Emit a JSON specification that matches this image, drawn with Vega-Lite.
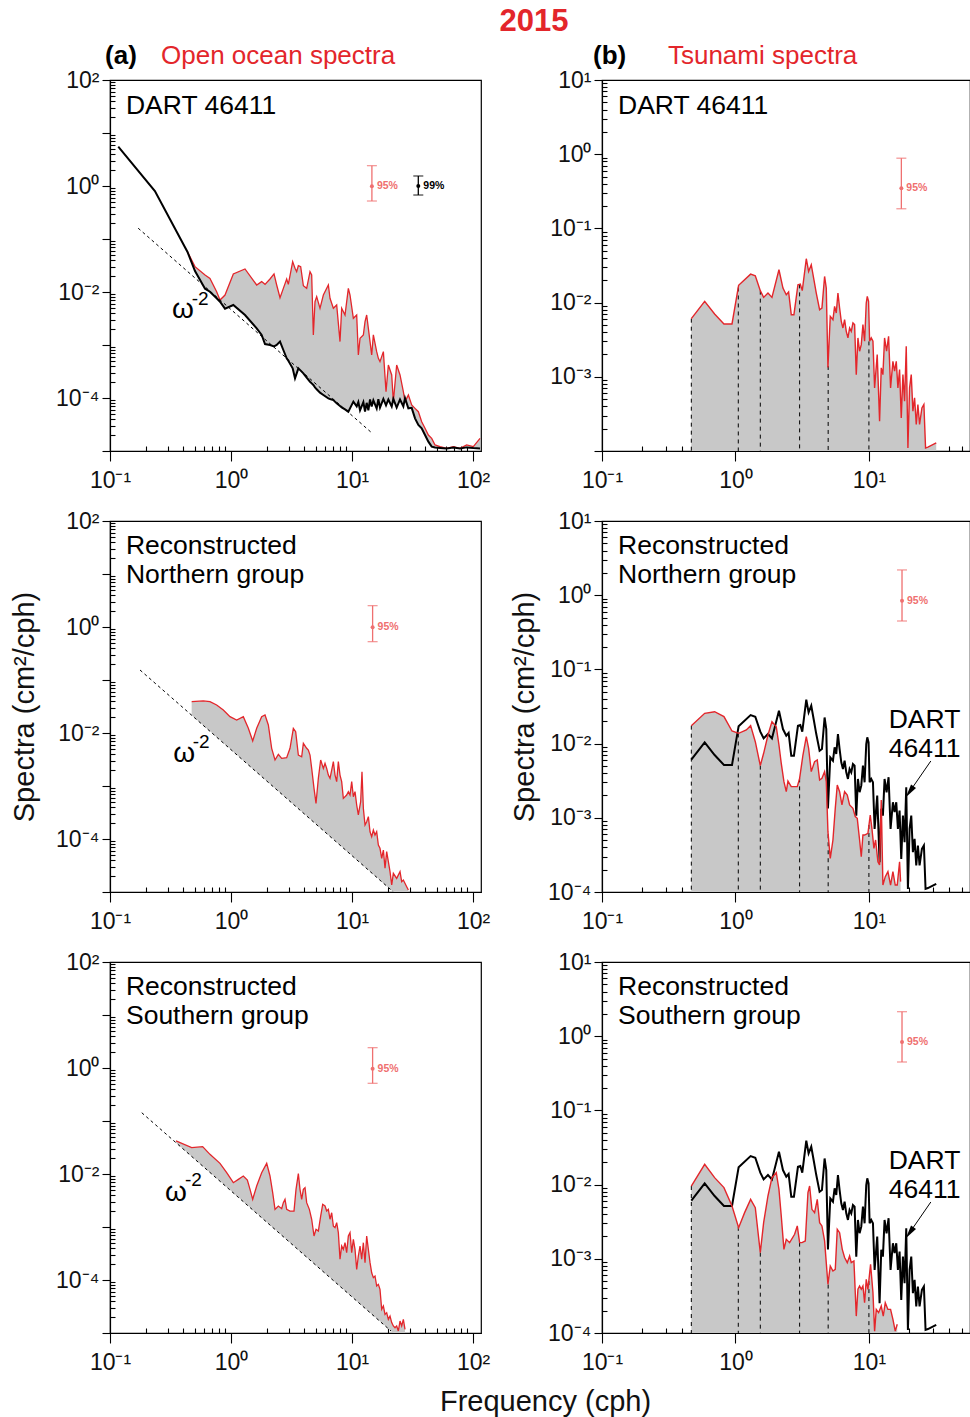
{
"$schema": "https://vega.github.io/schema/vega-lite/v6.json",
"padding": {"left": 9, "top": 6, "right": 0, "bottom": 0},
"background": "white",
"bounds": "flush",
"columns": 2,
"spacing": {"row": 70, "column": 121},
"title": {"text": "2015", "font": "Liberation Sans", "fontSize": 31, "fontWeight": "bold", "color": "#e3262b", "anchor": "middle", "offset": 4, "dx": 44},
"config": {
  "view": {"stroke": "#000", "strokeWidth": 1.2},
  "axis": {"domainColor": "#000", "domainWidth": 1.2, "tickColor": "#000", "tickWidth": 1.1, "labelFont": "Liberation Sans", "labelFontSize": 23, "labelColor": "#111", "titleFont": "Liberation Sans", "titleFontSize": 29, "titleFontWeight": "normal", "titleColor": "#111", "grid": false, "labelOverlap": false, "labelFlush": false, "labelBound": false},
  "axisX": {"labelPadding": 8},
  "text": {"font": "Liberation Sans"}
},
"datasets": {
"a1": [
{"f":0.117,"black":5.52},{"f":0.235,"black":0.805},
{"f":0.436,"red":0.0577,"black":0.0577},{"f":0.504,"red":0.0301,"black":0.0249},{"f":0.61,"red":0.0209,"black":0.01155},{"f":0.67,"red":0.0181,"black":0.01014},{"f":0.761,"red":0.01014,"black":0.0076},{"f":0.811,"red":0.00706,"black":0.00657},{"f":0.892,"red":0.00877,"black":0.00485},{"f":1.045,"red":0.0219,"black":0.00569},{"f":1.305,"red":0.0272,"black":0.00368},{"f":1.63,"red":0.01355,"black":0.00206},{"f":1.792,"red":0.0157,"black":0.00155},{"f":1.91,"red":0.01395,"black":0.00104},{"f":2.1,"red":0.0176,"black":0.001},{"f":2.267,"red":0.0219,"black":0.000944},{"f":2.385,"red":0.01355,"black":0.001},{"f":2.541,"red":0.00781,"black":0.00116},{"f":2.707,"red":0.01172,"black":0.000805},{"f":2.884,"red":0.0176,"black":0.00056},{"f":2.977,"red":0.01395,"black":0.000506},{"f":3.233,"red":0.0374,"black":0.000363},{"f":3.38,"red":0.028,"black":0.000235},{"f":3.489,"red":0.0242,"black":0.000292},{"f":3.602,"red":0.0314,"black":0.000363},{"f":3.765,"red":0.0301,"black":0.000328},{"f":3.962,"red":0.01316,"black":0.000292},{"f":4.22,"red":0.01172,"black":0.000242},{"f":4.497,"red":0.0242,"black":0.000203},{"f":4.642,"red":0.0209,"black":0.000189},{"f":4.791,"red":0.00155,"black":0.000176},{"f":4.945,"red":0.00657,"black":0.000159},{"f":5.105,"red":0.00816,"black":0.000146},{"f":5.439,"red":0.00492,"black":0.000126},{"f":5.796,"red":0.00877,"black":0.000114},{"f":6.375,"red":0.01355,"black":0.0000986},{"f":6.58,"red":0.0076,"black":0.0000957},{"f":7.012,"red":0.00492,"black":0.0000916},{"f":7.47,"red":0.00569,"black":0.0000793},{"f":7.958,"red":0.00116,"black":0.0000706},{"f":8.214,"red":0.00492,"black":0.0000667},{"f":8.752,"red":0.00368,"black":0.0000611},{"f":9.327,"red":0.01172,"black":0.0000552},{"f":9.627,"red":0.00877,"black":0.0000638},{"f":10.26,"red":0.00319,"black":0.0000853},{"f":10.93,"red":0.00368,"black":0.0000693},{"f":11.28,"red":0.000648,"black":0.0000838},{"f":11.65,"red":0.00134,"black":0.0000586},{"f":12.41,"red":0.00155,"black":0.0000838},{"f":12.81,"red":0.00275,"black":0.0000552},{"f":13.22,"red":0.00368,"black":0.0000811},{"f":13.65,"red":0.00206,"black":0.0000586},{"f":14.09,"red":0.00116,"black":0.0000938},{"f":14.54,"red":0.000648,"black":0.0000693},{"f":15.01,"red":0.00155,"black":0.0000906},{"f":15.99,"red":0.000749,"black":0.0000638},{"f":16.51,"red":0.00056,"black":0.0000953},{"f":17.03,"red":0.000485,"black":0.0000659},{"f":18.16,"red":0.000749,"black":0.0000959},{"f":19.1,"red":0.000132,"black":0.0000728},{"f":19.97,"red":0.00042,"black":0.0000938},{"f":21.28,"red":0.000272,"black":0.0000693},{"f":21.96,"red":0.0000853,"black":0.0000959},{"f":23.39,"red":0.00042,"black":0.0000659},{"f":24.93,"red":0.000272,"black":0.0000938},{"f":26.56,"red":0.000132,"black":0.0000693},{"f":27.42,"red":0.0000853,"black":0.0000996},{"f":29.22,"red":0.000114,"black":0.0000638},{"f":31.13,"red":0.0000738,"black":0.0000652},{"f":33.17,"red":0.0000638,"black":0.0000413},{"f":35.34,"red":0.0000552,"black":0.000031},{"f":37.65,"red":0.0000357,"black":0.0000268},{"f":40.12,"red":0.0000268,"black":0.00002},{"f":42.75,"red":0.00002,"black":0.000015},{"f":45.55,"red":0.0000173,"black":0.0000121},{"f":48.53,"red":0.000013,"black":0.0000116},{"f":53.39,"red":0.0000121,"black":0.0000114},{"f":60.6,"red":0.0000112,"black":0.0000112},{"f":68.8,"red":0.0000121,"black":0.0000116},{"f":78.1,"red":0.0000112,"black":0.0000112},{"f":88.6,"red":0.000013,"black":0.0000117},{"f":100.6,"red":0.0000121,"black":0.0000114},{"f":114.3,"red":0.0000173,"black":0.0000112}
],
"a2": [
{"f":0.473,"red":0.039,"ref":0.02164},{"f":0.59,"red":0.0402,"ref":0.0139},{"f":0.67,"red":0.039,"ref":0.01078},{"f":0.761,"red":0.0337,"ref":0.00836},{"f":0.864,"red":0.0272,"ref":0.00648},{"f":0.981,"red":0.0203,"ref":0.00503},{"f":1.114,"red":0.0176,"ref":0.0039},{"f":1.264,"red":0.0203,"ref":0.00303},{"f":1.391,"red":0.01225,"ref":0.0025},{"f":1.511,"red":0.00706,"ref":0.00212},{"f":1.63,"red":0.01225,"ref":0.00182},{"f":1.792,"red":0.0203,"ref":0.00151},{"f":1.91,"red":0.0219,"ref":0.00133},{"f":2.035,"red":0.01416,"ref":0.00117},{"f":2.168,"red":0.00514,"ref":0.00103},{"f":2.31,"red":0.0031,"ref":0.000907},{"f":2.462,"red":0.00396,"ref":0.000798},{"f":2.623,"red":0.00333,"ref":0.000703},{"f":2.884,"red":0.00342,"ref":0.000582},{"f":3.073,"red":0.00514,"ref":0.000513},{"f":3.274,"red":0.01225,"ref":0.000452},{"f":3.423,"red":0.0106,"ref":0.000413},{"f":3.602,"red":0.00384,"ref":0.000373},{"f":3.837,"red":0.00357,"ref":0.000329},{"f":3.962,"red":0.00638,"ref":0.000308},{"f":4.22,"red":0.00514,"ref":0.000272},{"f":4.356,"red":0.00478,"ref":0.000255},{"f":4.497,"red":0.00384,"ref":0.000239},{"f":4.642,"red":0.00215,"ref":0.000225},{"f":4.853,"red":0.000904,"ref":0.000206},{"f":5.041,"red":0.000471,"ref":0.00019},{"f":5.27,"red":0.0014,"ref":0.000174},{"f":5.508,"red":0.0031,"ref":0.00016},{"f":5.796,"red":0.00215,"ref":0.000144},{"f":5.983,"red":0.00268,"ref":0.000135},{"f":6.176,"red":0.00215,"ref":0.000127},{"f":6.375,"red":0.00161,"ref":0.000119},{"f":6.58,"red":0.0014,"ref":0.000112},{"f":6.792,"red":0.002,"ref":0.000105},{"f":7.012,"red":0.00288,"ref":0.0000984},{"f":7.238,"red":0.00161,"ref":0.0000924},{"f":7.47,"red":0.00121,"ref":0.0000867},{"f":7.709,"red":0.00288,"ref":0.0000814},{"f":7.958,"red":0.00161,"ref":0.0000764},{"f":8.214,"red":0.00121,"ref":0.0000717},{"f":8.479,"red":0.000585,"ref":0.0000673},{"f":9.034,"red":0.000676,"ref":0.0000593},{"f":9.327,"red":0.000782,"ref":0.0000556},{"f":9.627,"red":0.000676,"ref":0.0000522},{"f":9.94,"red":0.00121,"ref":0.000049},{"f":10.26,"red":0.000629,"ref":0.000046},{"f":10.59,"red":0.000782,"ref":0.0000432},{"f":10.93,"red":0.000438,"ref":0.0000405},{"f":11.28,"red":0.000284,"ref":0.000038},{"f":11.79,"red":0.000506,"ref":0.0000348},{"f":12.09,"red":0.00186,"ref":0.0000331},{"f":12.41,"red":0.000379,"ref":0.0000314},{"f":12.81,"red":0.000184,"ref":0.0000295},{"f":13.22,"red":0.000212,"ref":0.0000277},{"f":13.65,"red":0.000264,"ref":0.000026},{"f":14.09,"red":0.000137,"ref":0.0000244},{"f":14.54,"red":0.000111,"ref":0.0000229},{"f":15.01,"red":0.000148,"ref":0.0000215},{"f":15.49,"red":0.000119,"ref":0.0000202},{"f":15.99,"red":0.000137,"ref":0.0000189},{"f":16.51,"red":0.0000771,"ref":0.0000178},{"f":17.03,"red":0.0000667,"ref":0.0000167},{"f":17.59,"red":0.0000432,"ref":0.0000156},{"f":18.16,"red":0.0000619,"ref":0.0000147},{"f":18.74,"red":0.000028,"ref":0.0000138},{"f":19.34,"red":0.0000577,"ref":0.0000129},{"f":19.97,"red":0.0000373,"ref":0.0000121},{"f":20.61,"red":0.0000242,"ref":0.0000114},{"f":21.28,"red":0.0000136,"ref":0.0000107},{"f":21.96,"red":0.0000225,"ref":0.00001},{"f":23.39,"red":0.0000181,"ref":0.00001},{"f":24.93,"red":0.0000242,"ref":0.00001},{"f":25.73,"red":0.0000157,"ref":0.00001},{"f":26.56,"red":0.0000168,"ref":0.00001},{"f":28.3,"red":0.0000126,"ref":0.00001},{"f":29.22,"red":0.0000109,"ref":0.00001}
],
"a3": [
{"f":0.351,"red":0.042,"ref":0.039},{"f":0.473,"red":0.0314,"ref":0.02145},{"f":0.583,"red":0.0328,"ref":0.01412},{"f":0.67,"red":0.0235,"ref":0.01069},{"f":0.811,"red":0.0159,"ref":0.0073},{"f":0.921,"red":0.0106,"ref":0.00566},{"f":1.045,"red":0.00686,"ref":0.0044},{"f":1.15,"red":0.00793,"ref":0.00363},{"f":1.264,"red":0.00917,"ref":0.003},{"f":1.365,"red":0.0077,"ref":0.00258},{"f":1.436,"red":0.00514,"ref":0.00233},{"f":1.511,"red":0.00333,"ref":0.0021},{"f":1.63,"red":0.00594,"ref":0.00181},{"f":1.792,"red":0.0106,"ref":0.00149},{"f":1.972,"red":0.0159,"ref":0.00123},{"f":2.1,"red":0.00917,"ref":0.00109},{"f":2.21,"red":0.00445,"ref":0.000983},{"f":2.31,"red":0.00215,"ref":0.0009},{"f":2.462,"red":0.00249,"ref":0.000792},{"f":2.623,"red":0.00222,"ref":0.000698},{"f":2.707,"red":0.00288,"ref":0.000655},{"f":2.795,"red":0.00333,"ref":0.000614},{"f":2.884,"red":0.00215,"ref":0.000577},{"f":3.073,"red":0.002,"ref":0.000508},{"f":3.316,"red":0.002,"ref":0.000437},{"f":3.445,"red":0.00514,"ref":0.000404},{"f":3.602,"red":0.01014,"ref":0.00037},{"f":3.717,"red":0.00514,"ref":0.000347},{"f":3.837,"red":0.00333,"ref":0.000326},{"f":3.962,"red":0.00514,"ref":0.000306},{"f":4.089,"red":0.00552,"ref":0.000287},{"f":4.22,"red":0.00288,"ref":0.00027},{"f":4.441,"red":0.00215,"ref":0.000243},{"f":4.642,"red":0.0014,"ref":0.000223},{"f":4.853,"red":0.000676,"ref":0.000204},{"f":5.041,"red":0.000904,"ref":0.000189},{"f":5.27,"red":0.000841,"ref":0.000173},{"f":5.508,"red":0.00161,"ref":0.000158},{"f":5.724,"red":0.00268,"ref":0.000146},{"f":5.983,"red":0.00249,"ref":0.000134},{"f":6.176,"red":0.002,"ref":0.000126},{"f":6.375,"red":0.00215,"ref":0.000118},{"f":6.58,"red":0.0014,"ref":0.000111},{"f":6.792,"red":0.00186,"ref":0.000104},{"f":7.012,"red":0.00104,"ref":0.0000976},{"f":7.238,"red":0.000971,"ref":0.0000916},{"f":7.47,"red":0.00121,"ref":0.000086},{"f":7.709,"red":0.000782,"ref":0.0000808},{"f":7.958,"red":0.000246,"ref":0.0000758},{"f":8.214,"red":0.000438,"ref":0.0000711},{"f":8.479,"red":0.000379,"ref":0.0000668},{"f":8.752,"red":0.000506,"ref":0.0000627},{"f":9.034,"red":0.000328,"ref":0.0000588},{"f":9.327,"red":0.000676,"ref":0.0000552},{"f":9.627,"red":0.000782,"ref":0.0000518},{"f":9.94,"red":0.000328,"ref":0.0000486},{"f":10.26,"red":0.000585,"ref":0.0000456},{"f":10.59,"red":0.000379,"ref":0.0000428},{"f":10.93,"red":0.000159,"ref":0.0000402},{"f":11.28,"red":0.000284,"ref":0.0000377},{"f":11.65,"red":0.000438,"ref":0.0000354},{"f":12.02,"red":0.000246,"ref":0.0000332},{"f":12.41,"red":0.000506,"ref":0.0000312},{"f":12.81,"red":0.000212,"ref":0.0000293},{"f":13.22,"red":0.000676,"ref":0.0000275},{"f":13.65,"red":0.000379,"ref":0.0000258},{"f":14.09,"red":0.000212,"ref":0.0000242},{"f":14.54,"red":0.000137,"ref":0.0000227},{"f":15.01,"red":0.000111,"ref":0.0000213},{"f":15.49,"red":0.000119,"ref":0.00002},{"f":15.99,"red":0.0000771,"ref":0.0000188},{"f":16.51,"red":0.0000828,"ref":0.0000176},{"f":17.03,"red":0.0000667,"ref":0.0000166},{"f":17.59,"red":0.000028,"ref":0.0000155},{"f":18.16,"red":0.0000323,"ref":0.0000146},{"f":18.74,"red":0.0000225,"ref":0.0000137},{"f":19.34,"red":0.0000242,"ref":0.0000128},{"f":19.97,"red":0.0000181,"ref":0.000012},{"f":20.61,"red":0.0000209,"ref":0.0000113},{"f":21.28,"red":0.0000157,"ref":0.0000106},{"f":21.96,"red":0.0000136,"ref":0.00001},{"f":22.67,"red":0.0000126,"ref":0.00001},{"f":23.39,"red":0.0000136,"ref":0.00001},{"f":24.15,"red":0.0000109,"ref":0.00001},{"f":24.93,"red":0.0000168,"ref":0.00001},{"f":25.73,"red":0.0000136,"ref":0.00001},{"f":26.56,"red":0.0000181,"ref":0.00001},{"f":27.42,"red":0.0000117,"ref":0.00001}
],
"dart": [
{"f":0.467,"s":0.00607},{"f":0.588,"s":0.0104},{"f":0.698,"s":0.00702},{"f":0.82,"s":0.00515},{"f":0.942,"s":0.00515},{"f":1.056,"s":0.0171},{"f":1.299,"s":0.0242},{"f":1.408,"s":0.023},{"f":1.535,"s":0.0145},{"f":1.626,"s":0.01176},{"f":1.752,"s":0.01345},{"f":1.877,"s":0.01176},{"f":2.118,"s":0.0277},{"f":2.269,"s":0.0157},{"f":2.403,"s":0.01277},{"f":2.502,"s":0.0139},{"f":2.619,"s":0.00687},{"f":2.742,"s":0.00687},{"f":2.939,"s":0.0174},{"f":3.06,"s":0.0178},{"f":3.167,"s":0.0145},{"f":3.394,"s":0.039},{"f":3.533,"s":0.0263},{"f":3.698,"s":0.0324},{"f":3.873,"s":0.0203},{"f":4.032,"s":0.01345},{"f":4.271,"s":0.00802},{"f":4.446,"s":0.00845},{"f":4.655,"s":0.0225},{"f":4.791,"s":0.0157},{"f":4.931,"s":0.00134},{"f":5.134,"s":0.00653},{"f":5.375,"s":0.00589},{"f":5.532,"s":0.0089},{"f":5.693,"s":0.00724},{"f":5.86,"s":0.01345},{"f":6.031,"s":0.00845},{"f":6.207,"s":0.00559},{"f":6.387,"s":0.00455},{"f":6.573,"s":0.00589},{"f":6.766,"s":0.0041},{"f":6.963,"s":0.00334},{"f":7.166,"s":0.00455},{"f":7.375,"s":0.0041},{"f":7.59,"s":0.00531},{"f":7.811,"s":0.00505},{"f":8.039,"s":0.00107},{"f":8.274,"s":0.00334},{"f":8.515,"s":0.00221},{"f":8.764,"s":0.00271},{"f":9.019,"s":0.00505},{"f":9.281,"s":0.00301},{"f":9.55,"s":0.00987},{"f":9.72,"s":0.01213},{"f":9.94,"s":0.0104},{"f":10.12,"s":0.00301},{"f":10.41,"s":0.00334},{"f":10.72,"s":0.00301},{"f":11.03,"s":0.000708},{"f":11.54,"s":0.00199},{"f":12.02,"s":0.000252},{"f":12.37,"s":0.00132},{"f":12.73,"s":0.00107},{"f":13.1,"s":0.00334},{"f":13.56,"s":0.00221},{"f":14.04,"s":0.00352},{"f":14.53,"s":0.000708},{"f":15.13,"s":0.00162},{"f":15.57,"s":0.00119},{"f":16.03,"s":0.00162},{"f":16.49,"s":0.000708},{"f":16.97,"s":0.00125},{"f":17.47,"s":0.000279},{"f":17.98,"s":0.00107},{"f":18.5,"s":0.000469},{"f":19.04,"s":0.00258},{"f":19.6,"s":0.00011},{"f":20.17,"s":0.000708},{"f":20.76,"s":0.00107},{"f":21.36,"s":0.000344},{"f":21.99,"s":0.00052},{"f":22.63,"s":0.000228},{"f":23.28,"s":0.000423},{"f":23.96,"s":0.000228},{"f":24.95,"s":0.000381},{"f":25.82,"s":0.000423},{"f":26.57,"s":0.00011},{"f":27.67,"s":0.000113},{"f":31.94,"s":0.000129}
],
"b2": [
{"f":0.467,"s":0.01746},{"f":0.588,"s":0.0256},{"f":0.698,"s":0.0269},{"f":0.82,"s":0.0231},{"f":0.942,"s":0.01479},{"f":1.056,"s":0.01375},{"f":1.206,"s":0.01525},{"f":1.299,"s":0.01746},{"f":1.408,"s":0.01061},{"f":1.535,"s":0.00505},{"f":1.626,"s":0.0074},{"f":1.752,"s":0.01306},{"f":1.877,"s":0.0198},{"f":2.022,"s":0.0169},{"f":2.118,"s":0.00957},{"f":2.204,"s":0.00542},{"f":2.308,"s":0.00307},{"f":2.403,"s":0.00225},{"f":2.473,"s":0.00313},{"f":2.619,"s":0.00263},{"f":2.905,"s":0.00263},{"f":3.025,"s":0.0034},{"f":3.204,"s":0.00702},{"f":3.394,"s":0.0124},{"f":3.533,"s":0.00863},{"f":3.698,"s":0.00419},{"f":3.917,"s":0.00571},{"f":4.102,"s":0.00601},{"f":4.271,"s":0.00323},{"f":4.446,"s":0.0034},{"f":4.655,"s":0.00419},{"f":4.791,"s":0.00307},{"f":4.931,"s":0.00065},{"f":5.134,"s":0.000284},{"f":5.375,"s":0.000502},{"f":5.596,"s":0.00134},{"f":5.792,"s":0.00277},{"f":6.031,"s":0.00225},{"f":6.279,"s":0.00149},{"f":6.573,"s":0.00225},{"f":6.884,"s":0.00203},{"f":7.166,"s":0.00149},{"f":7.59,"s":0.00134},{"f":7.901,"s":0.00104},{"f":8.178,"s":0.000984},{"f":8.515,"s":0.000502},{"f":8.764,"s":0.000299},{"f":9.019,"s":0.000586},{"f":9.281,"s":0.000586},{"f":9.83,"s":0.000618},{"f":10.23,"s":0.00109},{"f":10.53,"s":0.000721},{"f":10.9,"s":0.000388},{"f":11.22,"s":0.000502},{"f":11.68,"s":0.000256},{"f":12.02,"s":0.000231},{"f":12.37,"s":0.00174},{"f":12.73,"s":0.000124},{"f":13.26,"s":0.000161},{"f":13.88,"s":0.000188},{"f":14.53,"s":0.000124},{"f":15.13,"s":0.000188},{"f":15.75,"s":0.000124},{"f":16.3,"s":0.000124},{"f":16.97,"s":0.000256},{"f":17.27,"s":0.000138}
],
"b3": [
{"f":0.467,"s":0.00957},{"f":0.588,"s":0.01875},{"f":0.698,"s":0.0124},{"f":0.82,"s":0.0091},{"f":0.942,"s":0.00515},{"f":1.056,"s":0.00263},{"f":1.171,"s":0.00419},{"f":1.299,"s":0.00632},{"f":1.408,"s":0.00489},{"f":1.535,"s":0.00121},{"f":1.626,"s":0.00307},{"f":1.752,"s":0.00702},{"f":1.877,"s":0.0124},{"f":2.022,"s":0.01448},{"f":2.118,"s":0.00863},{"f":2.204,"s":0.00378},{"f":2.308,"s":0.00134},{"f":2.403,"s":0.00183},{"f":2.545,"s":0.00165},{"f":2.775,"s":0.00214},{"f":2.905,"s":0.00277},{"f":3.025,"s":0.00165},{"f":3.149,"s":0.00165},{"f":3.336,"s":0.00174},{"f":3.493,"s":0.00778},{"f":3.595,"s":0.00957},{"f":3.741,"s":0.00464},{"f":3.917,"s":0.00419},{"f":4.102,"s":0.00632},{"f":4.271,"s":0.00307},{"f":4.446,"s":0.00277},{"f":4.655,"s":0.00174},{"f":4.931,"s":0.000453},{"f":5.134,"s":0.0008},{"f":5.375,"s":0.000685},{"f":5.596,"s":0.000721},{"f":5.792,"s":0.00249},{"f":6.031,"s":0.00225},{"f":6.314,"s":0.00134},{"f":6.573,"s":0.00104},{"f":6.884,"s":0.000887},{"f":7.166,"s":0.00109},{"f":7.375,"s":0.000887},{"f":7.721,"s":0.000934},{"f":8.039,"s":0.000169},{"f":8.274,"s":0.000388},{"f":8.515,"s":0.00043},{"f":8.764,"s":0.000388},{"f":9.019,"s":0.00043},{"f":9.281,"s":0.000256},{"f":9.55,"s":0.000529},{"f":9.83,"s":0.000388},{"f":10.29,"s":0.000842},{"f":10.72,"s":0.00035},{"f":11.03,"s":0.000106},{"f":11.35,"s":0.000208},{"f":11.82,"s":0.000188},{"f":12.37,"s":0.000231},{"f":12.81,"s":0.000169},{"f":13.26,"s":0.000256},{"f":13.88,"s":0.000208},{"f":14.53,"s":0.000208},{"f":15.13,"s":0.000153},{"f":15.75,"s":0.000106},{"f":16.3,"s":0.000131}
],
"ref": [
{"panel":"A1","f":0.171,"s":0.1597},{"panel":"A1","f":14.6,"s":0.0000219},
{"panel":"A2","f":0.177,"s":0.1545},{"panel":"A2","f":21.9,"s":0.0000101},
{"panel":"A3","f":0.183,"s":0.1433},{"panel":"A3","f":21.0,"s":0.0000109}
],
"vlines": [
{"panel":"B1","f":0.467,"top":0.00607},{"panel":"B1","f":1.05,"top":0.016},{"panel":"B1","f":1.535,"top":0.0145},{"panel":"B1","f":3.025,"top":0.0176},{"panel":"B1","f":4.95,"top":0.0014},{"panel":"B1","f":10.0,"top":0.003},
{"panel":"B2","f":0.467,"top":0.01746},{"panel":"B2","f":1.05,"top":0.0137},{"panel":"B2","f":1.535,"top":0.00505},{"panel":"B2","f":3.025,"top":0.0034},{"panel":"B2","f":4.95,"top":0.0006},{"panel":"B2","f":10.0,"top":0.0008},
{"panel":"B3","f":0.467,"top":0.00957},{"panel":"B3","f":1.05,"top":0.0027},{"panel":"B3","f":1.535,"top":0.00121},{"panel":"B3","f":3.025,"top":0.00165},{"panel":"B3","f":4.95,"top":0.00045},{"panel":"B3","f":10.0,"top":0.0005}
],
"err": [
{"panel":"A1","f":14.6,"lo":0.521,"mid":0.99,"hi":2.42,"label":"95%"},
{"panel":"A1","f":35.3,"lo":0.676,"mid":1.0,"hi":1.545,"label":"99%"},
{"panel":"A2","f":14.8,"lo":0.529,"mid":0.99,"hi":2.53,"label":"95%"},
{"panel":"A3","f":14.8,"lo":0.514,"mid":0.97,"hi":2.42,"label":"95%"},
{"panel":"B1","f":17.5,"lo":0.184,"mid":0.348,"hi":0.883,"label":"95%"},
{"panel":"B2","f":17.7,"lo":0.449,"mid":0.843,"hi":2.19,"label":"95%"},
{"panel":"B3","f":17.7,"lo":0.449,"mid":0.836,"hi":2.14,"label":"95%"}
],
"txt": [
{"panel":"A1","kind":"big","f":0.1355,"s":22.5,"t":"DART 46411"},
{"panel":"A2","kind":"big","f":0.1355,"s":23.8,"t":"Reconstructed\nNorthern group"},
{"panel":"A3","kind":"big","f":0.1355,"s":23.5,"t":"Reconstructed\nSouthern group"},
{"panel":"B1","kind":"big","f":0.1318,"s":3.45,"t":"DART 46411"},
{"panel":"B2","kind":"big","f":0.1318,"s":3.56,"t":"Reconstructed\nNorthern group"},
{"panel":"B3","kind":"big","f":0.1318,"s":3.56,"t":"Reconstructed\nSouthern group"},
{"panel":"B2","kind":"big","f":14.06,"s":0.0162,"t":"DART\n46411"},
{"panel":"B3","kind":"big","f":14.06,"s":0.0161,"t":"DART\n46411"},
{"panel":"A1","kind":"omega","f":0.3254,"s":0.00323,"t":"ω"},
{"panel":"A2","kind":"omega","f":0.333,"s":0.00287,"t":"ω"},
{"panel":"A3","kind":"omega","f":0.285,"s":0.0031,"t":"ω"},
{"panel":"A1","kind":"sup","f":0.473,"s":0.00569,"t":"-2"},
{"panel":"A2","kind":"sup","f":0.483,"s":0.00514,"t":"-2"},
{"panel":"A3","kind":"sup","f":0.417,"s":0.00594,"t":"-2"},
{"panel":"A1","kind":"hdrb","f":0.091,"s":200.5,"t":"(a)"},
{"panel":"A1","kind":"hdrr","f":0.264,"s":200.5,"t":"Open ocean spectra"},
{"panel":"B1","kind":"hdrb","f":0.0856,"s":16.4,"t":"(b)"},
{"panel":"B1","kind":"hdrr","f":0.312,"s":16.4,"t":"Tsunami spectra"}
],
"arrow": [
{"panel":"B2","o":1,"f":29.1,"s":0.00583},{"panel":"B2","o":2,"f":20.2,"s":0.00225},
{"panel":"B3","o":1,"f":29.1,"s":0.00583},{"panel":"B3","o":2,"f":20.2,"s":0.00225}
]
},
"concat": [
 {"width": 371, "height": 371,
  "encoding": {"x": {"field": "f", "type": "quantitative", "scale": {"type": "log", "domain": [0.1, 116.4], "nice": false}, "axis": {"title": null, "values": [0.1,0.2,0.3,0.4,0.5,0.6,0.7,0.8,0.9,1,2,3,4,5,6,7,8,9,10,20,30,40,50,60,70,80,90,100], "labelExpr": "abs(log(datum.value)/LN10 - round(log(datum.value)/LN10)) < 0.001 ? '10' + ['⁻⁵','⁻⁴','⁻³','⁻²','⁻¹','⁰','¹','²'][round(log(datum.value)/LN10)+5] : ''", "tickSize": {"condition": {"test": "abs(log(datum.value)/LN10 - round(log(datum.value)/LN10)) < 0.001", "value": 10}, "value": -5}}}},
  "layer": [
   {"data": {"name": "a1"}, "mark": {"type": "area", "color": "#c8c8c8", "clip": true}, "encoding": {"y": {"field": "red", "type": "quantitative", "scale": {"type": "log", "domain": [0.00001, 100], "nice": false}, "axis": {"title": null, "values": [0.00001,0.00002,0.00003,0.00004,0.00005,0.00006,0.00007,0.00008,0.00009,0.0001,0.0002,0.0003,0.0004,0.0005,0.0006,0.0007,0.0008,0.0009,0.001,0.002,0.003,0.004,0.005,0.006,0.007,0.008,0.009,0.01,0.02,0.03,0.04,0.05,0.06,0.07,0.08,0.09,0.1,0.2,0.3,0.4,0.5,0.6,0.7,0.8,0.9,1,2,3,4,5,6,7,8,9,10,20,30,40,50,60,70,80,90,100], "labelExpr": "abs(log(datum.value)/LN10 - round(log(datum.value)/LN10)) < 0.001 && round(log(datum.value)/LN10) % 2 == 0 ? '10' + ['⁻⁵','⁻⁴','⁻³','⁻²','⁻¹','⁰','¹','²'][round(log(datum.value)/LN10)+5] : ''", "tickSize": {"condition": {"test": "abs(log(datum.value)/LN10 - round(log(datum.value)/LN10)) < 0.001", "value": 8}, "value": -5}, "labelPadding": 3}}, "y2": {"field": "black"}}},
   {"data": {"name": "a1"}, "mark": {"type": "line", "color": "#e3262b", "strokeWidth": 1.3, "clip": true}, "encoding": {"y": {"field": "red", "type": "quantitative", "scale": {"type": "log", "domain": [0.00001, 100], "nice": false}}}},
   {"data": {"name": "a1"}, "mark": {"type": "line", "color": "#000", "strokeWidth": 2, "clip": true}, "encoding": {"y": {"field": "black", "type": "quantitative", "scale": {"type": "log", "domain": [0.00001, 100], "nice": false}}}},
   {"data": {"name": "ref"}, "transform": [{"filter": "datum.panel == 'A1'"}], "mark": {"type": "line", "color": "#000", "strokeWidth": 1, "strokeDash": [3, 3]}, "encoding": {"y": {"field": "s", "type": "quantitative", "scale": {"type": "log", "domain": [0.00001, 100], "nice": false}}}},
   {"data": {"name": "err"}, "transform": [{"filter": "datum.panel == 'A1'"}],
    "encoding": {"color": {"field": "label", "type": "nominal", "scale": {"domain": ["95%", "99%"], "range": ["#ef7070", "#000000"]}, "legend": null}},
    "layer": [
     {"mark": {"type": "rule", "strokeWidth": 1.3}, "encoding": {"y": {"field": "lo", "type": "quantitative", "scale": {"type": "log", "domain": [0.00001, 100], "nice": false}}, "y2": {"field": "hi"}}},
     {"mark": {"type": "tick", "orient": "horizontal", "size": 10, "thickness": 1.3}, "encoding": {"y": {"field": "lo", "type": "quantitative", "scale": {"type": "log", "domain": [0.00001, 100], "nice": false}}}},
     {"mark": {"type": "tick", "orient": "horizontal", "size": 10, "thickness": 1.3}, "encoding": {"y": {"field": "hi", "type": "quantitative", "scale": {"type": "log", "domain": [0.00001, 100], "nice": false}}}},
     {"mark": {"type": "point", "filled": true, "size": 16, "opacity": 1}, "encoding": {"y": {"field": "mid", "type": "quantitative", "scale": {"type": "log", "domain": [0.00001, 100], "nice": false}}}},
     {"mark": {"type": "text", "align": "left", "baseline": "middle", "dx": 5, "fontSize": 10.5, "fontWeight": "bold"}, "encoding": {"y": {"field": "mid", "type": "quantitative", "scale": {"type": "log", "domain": [0.00001, 100], "nice": false}}, "text": {"field": "label"}}}
    ]},
   {"data": {"name": "txt"}, "transform": [{"filter": "datum.panel == 'A1' && datum.kind == 'big'"}], "mark": {"type": "text", "align": "left", "baseline": "alphabetic", "fontSize": 26.5, "lineBreak": "\n", "lineHeight": 29, "color": "#000"}, "encoding": {"y": {"field": "s", "type": "quantitative", "scale": {"type": "log", "domain": [0.00001, 100], "nice": false}}, "text": {"field": "t"}}},
   {"data": {"name": "txt"}, "transform": [{"filter": "datum.panel == 'A1' && datum.kind == 'omega'"}], "mark": {"type": "text", "align": "left", "baseline": "alphabetic", "fontSize": 28, "color": "#000"}, "encoding": {"y": {"field": "s", "type": "quantitative", "scale": {"type": "log", "domain": [0.00001, 100], "nice": false}}, "text": {"field": "t"}}},
   {"data": {"name": "txt"}, "transform": [{"filter": "datum.panel == 'A1' && datum.kind == 'sup'"}], "mark": {"type": "text", "align": "left", "baseline": "alphabetic", "fontSize": 19, "color": "#000"}, "encoding": {"y": {"field": "s", "type": "quantitative", "scale": {"type": "log", "domain": [0.00001, 100], "nice": false}}, "text": {"field": "t"}}},
   {"data": {"name": "txt"}, "transform": [{"filter": "datum.panel == 'A1' && datum.kind == 'hdrb'"}], "mark": {"type": "text", "align": "left", "baseline": "alphabetic", "fontSize": 26, "fontWeight": "bold", "color": "#000"}, "encoding": {"y": {"field": "s", "type": "quantitative", "scale": {"type": "log", "domain": [0.00001, 100], "nice": false}}, "text": {"field": "t"}}},
   {"data": {"name": "txt"}, "transform": [{"filter": "datum.panel == 'A1' && datum.kind == 'hdrr'"}], "mark": {"type": "text", "align": "left", "baseline": "alphabetic", "fontSize": 26, "color": "#e3262b"}, "encoding": {"y": {"field": "s", "type": "quantitative", "scale": {"type": "log", "domain": [0.00001, 100], "nice": false}}, "text": {"field": "t"}}}
  ]},
 {"width": 368, "height": 371,
  "encoding": {"x": {"field": "f", "type": "quantitative", "scale": {"type": "log", "domain": [0.1, 57.2], "nice": false}, "axis": {"title": null, "values": [0.1,0.2,0.3,0.4,0.5,0.6,0.7,0.8,0.9,1,2,3,4,5,6,7,8,9,10,20,30,40,50], "labelExpr": "abs(log(datum.value)/LN10 - round(log(datum.value)/LN10)) < 0.001 ? '10' + ['⁻⁵','⁻⁴','⁻³','⁻²','⁻¹','⁰','¹','²'][round(log(datum.value)/LN10)+5] : ''", "tickSize": {"condition": {"test": "abs(log(datum.value)/LN10 - round(log(datum.value)/LN10)) < 0.001", "value": 10}, "value": -5}}}},
  "layer": [
   {"data": {"name": "dart"}, "mark": {"type": "area", "color": "#c8c8c8", "clip": true}, "encoding": {"y": {"field": "s", "type": "quantitative", "scale": {"type": "log", "domain": [0.0001, 10], "nice": false}, "axis": {"title": null, "values": [0.0001,0.0002,0.0003,0.0004,0.0005,0.0006,0.0007,0.0008,0.0009,0.001,0.002,0.003,0.004,0.005,0.006,0.007,0.008,0.009,0.01,0.02,0.03,0.04,0.05,0.06,0.07,0.08,0.09,0.1,0.2,0.3,0.4,0.5,0.6,0.7,0.8,0.9,1,2,3,4,5,6,7,8,9,10], "labelExpr": "abs(log(datum.value)/LN10 - round(log(datum.value)/LN10)) < 0.001 && round(log(datum.value)/LN10) > -4 ? '10' + ['⁻⁵','⁻⁴','⁻³','⁻²','⁻¹','⁰','¹','²'][round(log(datum.value)/LN10)+5] : ''", "tickSize": {"condition": {"test": "abs(log(datum.value)/LN10 - round(log(datum.value)/LN10)) < 0.001", "value": 8}, "value": -5}, "labelPadding": 3}}, "y2": {"datum": 0.0001}}},
   {"data": {"name": "vlines"}, "transform": [{"filter": "datum.panel == 'B1'"}], "mark": {"type": "rule", "color": "#000", "strokeWidth": 1, "strokeDash": [4, 4]}, "encoding": {"y": {"field": "top", "type": "quantitative", "scale": {"type": "log", "domain": [0.0001, 10], "nice": false}}, "y2": {"datum": 0.0001}}},
   {"data": {"name": "dart"}, "mark": {"type": "line", "color": "#e3262b", "strokeWidth": 1.4, "clip": true}, "encoding": {"y": {"field": "s", "type": "quantitative", "scale": {"type": "log", "domain": [0.0001, 10], "nice": false}}}},
   {"data": {"name": "err"}, "transform": [{"filter": "datum.panel == 'B1'"}],
    "encoding": {"color": {"field": "label", "type": "nominal", "scale": {"domain": ["95%", "99%"], "range": ["#ef7070", "#000000"]}, "legend": null}},
    "layer": [
     {"mark": {"type": "rule", "strokeWidth": 1.3}, "encoding": {"y": {"field": "lo", "type": "quantitative", "scale": {"type": "log", "domain": [0.0001, 10], "nice": false}}, "y2": {"field": "hi"}}},
     {"mark": {"type": "tick", "orient": "horizontal", "size": 10, "thickness": 1.3}, "encoding": {"y": {"field": "lo", "type": "quantitative", "scale": {"type": "log", "domain": [0.0001, 10], "nice": false}}}},
     {"mark": {"type": "tick", "orient": "horizontal", "size": 10, "thickness": 1.3}, "encoding": {"y": {"field": "hi", "type": "quantitative", "scale": {"type": "log", "domain": [0.0001, 10], "nice": false}}}},
     {"mark": {"type": "point", "filled": true, "size": 16, "opacity": 1}, "encoding": {"y": {"field": "mid", "type": "quantitative", "scale": {"type": "log", "domain": [0.0001, 10], "nice": false}}}},
     {"mark": {"type": "text", "align": "left", "baseline": "middle", "dx": 5, "fontSize": 10.5, "fontWeight": "bold"}, "encoding": {"y": {"field": "mid", "type": "quantitative", "scale": {"type": "log", "domain": [0.0001, 10], "nice": false}}, "text": {"field": "label"}}}
    ]},
   {"data": {"name": "txt"}, "transform": [{"filter": "datum.panel == 'B1' && datum.kind == 'big'"}], "mark": {"type": "text", "align": "left", "baseline": "alphabetic", "fontSize": 26.5, "lineBreak": "\n", "lineHeight": 29, "color": "#000"}, "encoding": {"y": {"field": "s", "type": "quantitative", "scale": {"type": "log", "domain": [0.0001, 10], "nice": false}}, "text": {"field": "t"}}},
   {"data": {"name": "txt"}, "transform": [{"filter": "datum.panel == 'B1' && datum.kind == 'hdrb'"}], "mark": {"type": "text", "align": "left", "baseline": "alphabetic", "fontSize": 26, "fontWeight": "bold", "color": "#000"}, "encoding": {"y": {"field": "s", "type": "quantitative", "scale": {"type": "log", "domain": [0.0001, 10], "nice": false}}, "text": {"field": "t"}}},
   {"data": {"name": "txt"}, "transform": [{"filter": "datum.panel == 'B1' && datum.kind == 'hdrr'"}], "mark": {"type": "text", "align": "left", "baseline": "alphabetic", "fontSize": 26, "color": "#e3262b"}, "encoding": {"y": {"field": "s", "type": "quantitative", "scale": {"type": "log", "domain": [0.0001, 10], "nice": false}}, "text": {"field": "t"}}}
  ]},
 {"width": 371, "height": 371,
  "encoding": {"x": {"field": "f", "type": "quantitative", "scale": {"type": "log", "domain": [0.1, 116.4], "nice": false}, "axis": {"title": null, "values": [0.1,0.2,0.3,0.4,0.5,0.6,0.7,0.8,0.9,1,2,3,4,5,6,7,8,9,10,20,30,40,50,60,70,80,90,100], "labelExpr": "abs(log(datum.value)/LN10 - round(log(datum.value)/LN10)) < 0.001 ? '10' + ['⁻⁵','⁻⁴','⁻³','⁻²','⁻¹','⁰','¹','²'][round(log(datum.value)/LN10)+5] : ''", "tickSize": {"condition": {"test": "abs(log(datum.value)/LN10 - round(log(datum.value)/LN10)) < 0.001", "value": 10}, "value": -5}}}},
  "layer": [
   {"data": {"name": "a2"}, "mark": {"type": "area", "color": "#c8c8c8", "clip": true}, "encoding": {"y": {"field": "red", "type": "quantitative", "scale": {"type": "log", "domain": [0.00001, 100], "nice": false}, "axis": {"title": "Spectra  (cm²/cph)", "titleX": -71, "titleBaseline": "bottom", "values": [0.00001,0.00002,0.00003,0.00004,0.00005,0.00006,0.00007,0.00008,0.00009,0.0001,0.0002,0.0003,0.0004,0.0005,0.0006,0.0007,0.0008,0.0009,0.001,0.002,0.003,0.004,0.005,0.006,0.007,0.008,0.009,0.01,0.02,0.03,0.04,0.05,0.06,0.07,0.08,0.09,0.1,0.2,0.3,0.4,0.5,0.6,0.7,0.8,0.9,1,2,3,4,5,6,7,8,9,10,20,30,40,50,60,70,80,90,100], "labelExpr": "abs(log(datum.value)/LN10 - round(log(datum.value)/LN10)) < 0.001 && round(log(datum.value)/LN10) % 2 == 0 ? '10' + ['⁻⁵','⁻⁴','⁻³','⁻²','⁻¹','⁰','¹','²'][round(log(datum.value)/LN10)+5] : ''", "tickSize": {"condition": {"test": "abs(log(datum.value)/LN10 - round(log(datum.value)/LN10)) < 0.001", "value": 8}, "value": -5}, "labelPadding": 3}}, "y2": {"field": "ref"}}},
   {"data": {"name": "a2"}, "mark": {"type": "line", "color": "#e3262b", "strokeWidth": 1.3, "clip": true}, "encoding": {"y": {"field": "red", "type": "quantitative", "scale": {"type": "log", "domain": [0.00001, 100], "nice": false}}}},
   {"data": {"name": "ref"}, "transform": [{"filter": "datum.panel == 'A2'"}], "mark": {"type": "line", "color": "#000", "strokeWidth": 1, "strokeDash": [3, 3]}, "encoding": {"y": {"field": "s", "type": "quantitative", "scale": {"type": "log", "domain": [0.00001, 100], "nice": false}}}},
   {"data": {"name": "err"}, "transform": [{"filter": "datum.panel == 'A2'"}],
    "encoding": {"color": {"field": "label", "type": "nominal", "scale": {"domain": ["95%", "99%"], "range": ["#ef7070", "#000000"]}, "legend": null}},
    "layer": [
     {"mark": {"type": "rule", "strokeWidth": 1.3}, "encoding": {"y": {"field": "lo", "type": "quantitative", "scale": {"type": "log", "domain": [0.00001, 100], "nice": false}}, "y2": {"field": "hi"}}},
     {"mark": {"type": "tick", "orient": "horizontal", "size": 10, "thickness": 1.3}, "encoding": {"y": {"field": "lo", "type": "quantitative", "scale": {"type": "log", "domain": [0.00001, 100], "nice": false}}}},
     {"mark": {"type": "tick", "orient": "horizontal", "size": 10, "thickness": 1.3}, "encoding": {"y": {"field": "hi", "type": "quantitative", "scale": {"type": "log", "domain": [0.00001, 100], "nice": false}}}},
     {"mark": {"type": "point", "filled": true, "size": 16, "opacity": 1}, "encoding": {"y": {"field": "mid", "type": "quantitative", "scale": {"type": "log", "domain": [0.00001, 100], "nice": false}}}},
     {"mark": {"type": "text", "align": "left", "baseline": "middle", "dx": 5, "fontSize": 10.5, "fontWeight": "bold"}, "encoding": {"y": {"field": "mid", "type": "quantitative", "scale": {"type": "log", "domain": [0.00001, 100], "nice": false}}, "text": {"field": "label"}}}
    ]},
   {"data": {"name": "txt"}, "transform": [{"filter": "datum.panel == 'A2' && datum.kind == 'big'"}], "mark": {"type": "text", "align": "left", "baseline": "alphabetic", "fontSize": 26.5, "lineBreak": "\n", "lineHeight": 29, "color": "#000"}, "encoding": {"y": {"field": "s", "type": "quantitative", "scale": {"type": "log", "domain": [0.00001, 100], "nice": false}}, "text": {"field": "t"}}},
   {"data": {"name": "txt"}, "transform": [{"filter": "datum.panel == 'A2' && datum.kind == 'omega'"}], "mark": {"type": "text", "align": "left", "baseline": "alphabetic", "fontSize": 28, "color": "#000"}, "encoding": {"y": {"field": "s", "type": "quantitative", "scale": {"type": "log", "domain": [0.00001, 100], "nice": false}}, "text": {"field": "t"}}},
   {"data": {"name": "txt"}, "transform": [{"filter": "datum.panel == 'A2' && datum.kind == 'sup'"}], "mark": {"type": "text", "align": "left", "baseline": "alphabetic", "fontSize": 19, "color": "#000"}, "encoding": {"y": {"field": "s", "type": "quantitative", "scale": {"type": "log", "domain": [0.00001, 100], "nice": false}}, "text": {"field": "t"}}}
  ]},
 {"width": 368, "height": 371,
  "encoding": {"x": {"field": "f", "type": "quantitative", "scale": {"type": "log", "domain": [0.1, 57.2], "nice": false}, "axis": {"title": null, "values": [0.1,0.2,0.3,0.4,0.5,0.6,0.7,0.8,0.9,1,2,3,4,5,6,7,8,9,10,20,30,40,50], "labelExpr": "abs(log(datum.value)/LN10 - round(log(datum.value)/LN10)) < 0.001 ? '10' + ['⁻⁵','⁻⁴','⁻³','⁻²','⁻¹','⁰','¹','²'][round(log(datum.value)/LN10)+5] : ''", "tickSize": {"condition": {"test": "abs(log(datum.value)/LN10 - round(log(datum.value)/LN10)) < 0.001", "value": 10}, "value": -5}}}},
  "layer": [
   {"data": {"name": "b2"}, "mark": {"type": "area", "color": "#c8c8c8", "clip": true}, "encoding": {"y": {"field": "s", "type": "quantitative", "scale": {"type": "log", "domain": [0.0001, 10], "nice": false}, "axis": {"title": "Spectra  (cm²/cph)", "titleX": -63, "titleBaseline": "bottom", "values": [0.0001,0.0002,0.0003,0.0004,0.0005,0.0006,0.0007,0.0008,0.0009,0.001,0.002,0.003,0.004,0.005,0.006,0.007,0.008,0.009,0.01,0.02,0.03,0.04,0.05,0.06,0.07,0.08,0.09,0.1,0.2,0.3,0.4,0.5,0.6,0.7,0.8,0.9,1,2,3,4,5,6,7,8,9,10], "labelExpr": "abs(log(datum.value)/LN10 - round(log(datum.value)/LN10)) < 0.001 ? '10' + ['⁻⁵','⁻⁴','⁻³','⁻²','⁻¹','⁰','¹','²'][round(log(datum.value)/LN10)+5] : ''", "tickSize": {"condition": {"test": "abs(log(datum.value)/LN10 - round(log(datum.value)/LN10)) < 0.001", "value": 8}, "value": -5}, "labelPadding": 3}}, "y2": {"datum": 0.0001}}},
   {"data": {"name": "vlines"}, "transform": [{"filter": "datum.panel == 'B2'"}], "mark": {"type": "rule", "color": "#000", "strokeWidth": 1, "strokeDash": [4, 4]}, "encoding": {"y": {"field": "top", "type": "quantitative", "scale": {"type": "log", "domain": [0.0001, 10], "nice": false}}, "y2": {"datum": 0.0001}}},
   {"data": {"name": "dart"}, "mark": {"type": "line", "color": "#000", "strokeWidth": 2, "clip": true}, "encoding": {"y": {"field": "s", "type": "quantitative", "scale": {"type": "log", "domain": [0.0001, 10], "nice": false}}}},
   {"data": {"name": "b2"}, "mark": {"type": "line", "color": "#e3262b", "strokeWidth": 1.4, "clip": true}, "encoding": {"y": {"field": "s", "type": "quantitative", "scale": {"type": "log", "domain": [0.0001, 10], "nice": false}}}},
   {"data": {"name": "arrow"}, "transform": [{"filter": "datum.panel == 'B2'"}], "mark": {"type": "line", "color": "#000", "strokeWidth": 1}, "encoding": {"y": {"field": "s", "type": "quantitative", "scale": {"type": "log", "domain": [0.0001, 10], "nice": false}}, "order": {"field": "o"}}},
   {"data": {"name": "arrow"}, "transform": [{"filter": "datum.panel == 'B2' && datum.o == 2"}], "mark": {"type": "point", "shape": "M0,-1L0.45,1L-0.45,1Z", "filled": true, "color": "#000", "size": 180, "angle": 215, "opacity": 1}, "encoding": {"y": {"field": "s", "type": "quantitative", "scale": {"type": "log", "domain": [0.0001, 10], "nice": false}}}},
   {"data": {"name": "err"}, "transform": [{"filter": "datum.panel == 'B2'"}],
    "encoding": {"color": {"field": "label", "type": "nominal", "scale": {"domain": ["95%", "99%"], "range": ["#ef7070", "#000000"]}, "legend": null}},
    "layer": [
     {"mark": {"type": "rule", "strokeWidth": 1.3}, "encoding": {"y": {"field": "lo", "type": "quantitative", "scale": {"type": "log", "domain": [0.0001, 10], "nice": false}}, "y2": {"field": "hi"}}},
     {"mark": {"type": "tick", "orient": "horizontal", "size": 10, "thickness": 1.3}, "encoding": {"y": {"field": "lo", "type": "quantitative", "scale": {"type": "log", "domain": [0.0001, 10], "nice": false}}}},
     {"mark": {"type": "tick", "orient": "horizontal", "size": 10, "thickness": 1.3}, "encoding": {"y": {"field": "hi", "type": "quantitative", "scale": {"type": "log", "domain": [0.0001, 10], "nice": false}}}},
     {"mark": {"type": "point", "filled": true, "size": 16, "opacity": 1}, "encoding": {"y": {"field": "mid", "type": "quantitative", "scale": {"type": "log", "domain": [0.0001, 10], "nice": false}}}},
     {"mark": {"type": "text", "align": "left", "baseline": "middle", "dx": 5, "fontSize": 10.5, "fontWeight": "bold"}, "encoding": {"y": {"field": "mid", "type": "quantitative", "scale": {"type": "log", "domain": [0.0001, 10], "nice": false}}, "text": {"field": "label"}}}
    ]},
   {"data": {"name": "txt"}, "transform": [{"filter": "datum.panel == 'B2' && datum.kind == 'big'"}], "mark": {"type": "text", "align": "left", "baseline": "alphabetic", "fontSize": 26.5, "lineBreak": "\n", "lineHeight": 29, "color": "#000"}, "encoding": {"y": {"field": "s", "type": "quantitative", "scale": {"type": "log", "domain": [0.0001, 10], "nice": false}}, "text": {"field": "t"}}}
  ]},
 {"width": 371, "height": 371,
  "encoding": {"x": {"field": "f", "type": "quantitative", "scale": {"type": "log", "domain": [0.1, 116.4], "nice": false}, "axis": {"title": "Frequency  (cph)", "titleX": 435, "titleY": 77, "titleBaseline": "alphabetic", "titleAlign": "center", "values": [0.1,0.2,0.3,0.4,0.5,0.6,0.7,0.8,0.9,1,2,3,4,5,6,7,8,9,10,20,30,40,50,60,70,80,90,100], "labelExpr": "abs(log(datum.value)/LN10 - round(log(datum.value)/LN10)) < 0.001 ? '10' + ['⁻⁵','⁻⁴','⁻³','⁻²','⁻¹','⁰','¹','²'][round(log(datum.value)/LN10)+5] : ''", "tickSize": {"condition": {"test": "abs(log(datum.value)/LN10 - round(log(datum.value)/LN10)) < 0.001", "value": 10}, "value": -5}}}},
  "layer": [
   {"data": {"name": "a3"}, "mark": {"type": "area", "color": "#c8c8c8", "clip": true}, "encoding": {"y": {"field": "red", "type": "quantitative", "scale": {"type": "log", "domain": [0.00001, 100], "nice": false}, "axis": {"title": null, "values": [0.00001,0.00002,0.00003,0.00004,0.00005,0.00006,0.00007,0.00008,0.00009,0.0001,0.0002,0.0003,0.0004,0.0005,0.0006,0.0007,0.0008,0.0009,0.001,0.002,0.003,0.004,0.005,0.006,0.007,0.008,0.009,0.01,0.02,0.03,0.04,0.05,0.06,0.07,0.08,0.09,0.1,0.2,0.3,0.4,0.5,0.6,0.7,0.8,0.9,1,2,3,4,5,6,7,8,9,10,20,30,40,50,60,70,80,90,100], "labelExpr": "abs(log(datum.value)/LN10 - round(log(datum.value)/LN10)) < 0.001 && round(log(datum.value)/LN10) % 2 == 0 ? '10' + ['⁻⁵','⁻⁴','⁻³','⁻²','⁻¹','⁰','¹','²'][round(log(datum.value)/LN10)+5] : ''", "tickSize": {"condition": {"test": "abs(log(datum.value)/LN10 - round(log(datum.value)/LN10)) < 0.001", "value": 8}, "value": -5}, "labelPadding": 3}}, "y2": {"field": "ref"}}},
   {"data": {"name": "a3"}, "mark": {"type": "line", "color": "#e3262b", "strokeWidth": 1.3, "clip": true}, "encoding": {"y": {"field": "red", "type": "quantitative", "scale": {"type": "log", "domain": [0.00001, 100], "nice": false}}}},
   {"data": {"name": "ref"}, "transform": [{"filter": "datum.panel == 'A3'"}], "mark": {"type": "line", "color": "#000", "strokeWidth": 1, "strokeDash": [3, 3]}, "encoding": {"y": {"field": "s", "type": "quantitative", "scale": {"type": "log", "domain": [0.00001, 100], "nice": false}}}},
   {"data": {"name": "err"}, "transform": [{"filter": "datum.panel == 'A3'"}],
    "encoding": {"color": {"field": "label", "type": "nominal", "scale": {"domain": ["95%", "99%"], "range": ["#ef7070", "#000000"]}, "legend": null}},
    "layer": [
     {"mark": {"type": "rule", "strokeWidth": 1.3}, "encoding": {"y": {"field": "lo", "type": "quantitative", "scale": {"type": "log", "domain": [0.00001, 100], "nice": false}}, "y2": {"field": "hi"}}},
     {"mark": {"type": "tick", "orient": "horizontal", "size": 10, "thickness": 1.3}, "encoding": {"y": {"field": "lo", "type": "quantitative", "scale": {"type": "log", "domain": [0.00001, 100], "nice": false}}}},
     {"mark": {"type": "tick", "orient": "horizontal", "size": 10, "thickness": 1.3}, "encoding": {"y": {"field": "hi", "type": "quantitative", "scale": {"type": "log", "domain": [0.00001, 100], "nice": false}}}},
     {"mark": {"type": "point", "filled": true, "size": 16, "opacity": 1}, "encoding": {"y": {"field": "mid", "type": "quantitative", "scale": {"type": "log", "domain": [0.00001, 100], "nice": false}}}},
     {"mark": {"type": "text", "align": "left", "baseline": "middle", "dx": 5, "fontSize": 10.5, "fontWeight": "bold"}, "encoding": {"y": {"field": "mid", "type": "quantitative", "scale": {"type": "log", "domain": [0.00001, 100], "nice": false}}, "text": {"field": "label"}}}
    ]},
   {"data": {"name": "txt"}, "transform": [{"filter": "datum.panel == 'A3' && datum.kind == 'big'"}], "mark": {"type": "text", "align": "left", "baseline": "alphabetic", "fontSize": 26.5, "lineBreak": "\n", "lineHeight": 29, "color": "#000"}, "encoding": {"y": {"field": "s", "type": "quantitative", "scale": {"type": "log", "domain": [0.00001, 100], "nice": false}}, "text": {"field": "t"}}},
   {"data": {"name": "txt"}, "transform": [{"filter": "datum.panel == 'A3' && datum.kind == 'omega'"}], "mark": {"type": "text", "align": "left", "baseline": "alphabetic", "fontSize": 28, "color": "#000"}, "encoding": {"y": {"field": "s", "type": "quantitative", "scale": {"type": "log", "domain": [0.00001, 100], "nice": false}}, "text": {"field": "t"}}},
   {"data": {"name": "txt"}, "transform": [{"filter": "datum.panel == 'A3' && datum.kind == 'sup'"}], "mark": {"type": "text", "align": "left", "baseline": "alphabetic", "fontSize": 19, "color": "#000"}, "encoding": {"y": {"field": "s", "type": "quantitative", "scale": {"type": "log", "domain": [0.00001, 100], "nice": false}}, "text": {"field": "t"}}}
  ]},
 {"width": 368, "height": 371,
  "encoding": {"x": {"field": "f", "type": "quantitative", "scale": {"type": "log", "domain": [0.1, 57.2], "nice": false}, "axis": {"title": null, "values": [0.1,0.2,0.3,0.4,0.5,0.6,0.7,0.8,0.9,1,2,3,4,5,6,7,8,9,10,20,30,40,50], "labelExpr": "abs(log(datum.value)/LN10 - round(log(datum.value)/LN10)) < 0.001 ? '10' + ['⁻⁵','⁻⁴','⁻³','⁻²','⁻¹','⁰','¹','²'][round(log(datum.value)/LN10)+5] : ''", "tickSize": {"condition": {"test": "abs(log(datum.value)/LN10 - round(log(datum.value)/LN10)) < 0.001", "value": 10}, "value": -5}}}},
  "layer": [
   {"data": {"name": "b3"}, "mark": {"type": "area", "color": "#c8c8c8", "clip": true}, "encoding": {"y": {"field": "s", "type": "quantitative", "scale": {"type": "log", "domain": [0.0001, 10], "nice": false}, "axis": {"title": null, "values": [0.0001,0.0002,0.0003,0.0004,0.0005,0.0006,0.0007,0.0008,0.0009,0.001,0.002,0.003,0.004,0.005,0.006,0.007,0.008,0.009,0.01,0.02,0.03,0.04,0.05,0.06,0.07,0.08,0.09,0.1,0.2,0.3,0.4,0.5,0.6,0.7,0.8,0.9,1,2,3,4,5,6,7,8,9,10], "labelExpr": "abs(log(datum.value)/LN10 - round(log(datum.value)/LN10)) < 0.001 ? '10' + ['⁻⁵','⁻⁴','⁻³','⁻²','⁻¹','⁰','¹','²'][round(log(datum.value)/LN10)+5] : ''", "tickSize": {"condition": {"test": "abs(log(datum.value)/LN10 - round(log(datum.value)/LN10)) < 0.001", "value": 8}, "value": -5}, "labelPadding": 3}}, "y2": {"datum": 0.0001}}},
   {"data": {"name": "vlines"}, "transform": [{"filter": "datum.panel == 'B3'"}], "mark": {"type": "rule", "color": "#000", "strokeWidth": 1, "strokeDash": [4, 4]}, "encoding": {"y": {"field": "top", "type": "quantitative", "scale": {"type": "log", "domain": [0.0001, 10], "nice": false}}, "y2": {"datum": 0.0001}}},
   {"data": {"name": "dart"}, "mark": {"type": "line", "color": "#000", "strokeWidth": 2, "clip": true}, "encoding": {"y": {"field": "s", "type": "quantitative", "scale": {"type": "log", "domain": [0.0001, 10], "nice": false}}}},
   {"data": {"name": "b3"}, "mark": {"type": "line", "color": "#e3262b", "strokeWidth": 1.4, "clip": true}, "encoding": {"y": {"field": "s", "type": "quantitative", "scale": {"type": "log", "domain": [0.0001, 10], "nice": false}}}},
   {"data": {"name": "arrow"}, "transform": [{"filter": "datum.panel == 'B3'"}], "mark": {"type": "line", "color": "#000", "strokeWidth": 1}, "encoding": {"y": {"field": "s", "type": "quantitative", "scale": {"type": "log", "domain": [0.0001, 10], "nice": false}}, "order": {"field": "o"}}},
   {"data": {"name": "arrow"}, "transform": [{"filter": "datum.panel == 'B3' && datum.o == 2"}], "mark": {"type": "point", "shape": "M0,-1L0.45,1L-0.45,1Z", "filled": true, "color": "#000", "size": 180, "angle": 215, "opacity": 1}, "encoding": {"y": {"field": "s", "type": "quantitative", "scale": {"type": "log", "domain": [0.0001, 10], "nice": false}}}},
   {"data": {"name": "err"}, "transform": [{"filter": "datum.panel == 'B3'"}],
    "encoding": {"color": {"field": "label", "type": "nominal", "scale": {"domain": ["95%", "99%"], "range": ["#ef7070", "#000000"]}, "legend": null}},
    "layer": [
     {"mark": {"type": "rule", "strokeWidth": 1.3}, "encoding": {"y": {"field": "lo", "type": "quantitative", "scale": {"type": "log", "domain": [0.0001, 10], "nice": false}}, "y2": {"field": "hi"}}},
     {"mark": {"type": "tick", "orient": "horizontal", "size": 10, "thickness": 1.3}, "encoding": {"y": {"field": "lo", "type": "quantitative", "scale": {"type": "log", "domain": [0.0001, 10], "nice": false}}}},
     {"mark": {"type": "tick", "orient": "horizontal", "size": 10, "thickness": 1.3}, "encoding": {"y": {"field": "hi", "type": "quantitative", "scale": {"type": "log", "domain": [0.0001, 10], "nice": false}}}},
     {"mark": {"type": "point", "filled": true, "size": 16, "opacity": 1}, "encoding": {"y": {"field": "mid", "type": "quantitative", "scale": {"type": "log", "domain": [0.0001, 10], "nice": false}}}},
     {"mark": {"type": "text", "align": "left", "baseline": "middle", "dx": 5, "fontSize": 10.5, "fontWeight": "bold"}, "encoding": {"y": {"field": "mid", "type": "quantitative", "scale": {"type": "log", "domain": [0.0001, 10], "nice": false}}, "text": {"field": "label"}}}
    ]},
   {"data": {"name": "txt"}, "transform": [{"filter": "datum.panel == 'B3' && datum.kind == 'big'"}], "mark": {"type": "text", "align": "left", "baseline": "alphabetic", "fontSize": 26.5, "lineBreak": "\n", "lineHeight": 29, "color": "#000"}, "encoding": {"y": {"field": "s", "type": "quantitative", "scale": {"type": "log", "domain": [0.0001, 10], "nice": false}}, "text": {"field": "t"}}}
  ]}
]
}
